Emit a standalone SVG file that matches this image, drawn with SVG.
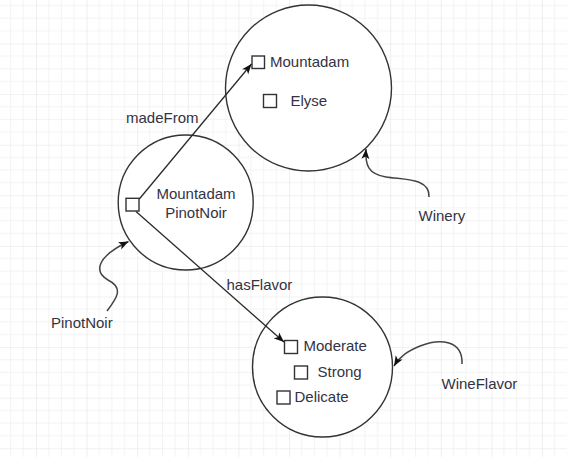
<svg xmlns="http://www.w3.org/2000/svg" width="567" height="457" viewBox="0 0 567 457">
<style>
.bg{fill:#ffffff}
.circ{fill:#ffffff;stroke:#333333;stroke-width:1.4}
.sq{fill:#ffffff;stroke:#333333;stroke-width:1.4}
.t{font-family:"Liberation Sans",Arial,Helvetica,sans-serif;font-size:15px;fill:#333344}
.tc{text-anchor:middle}
.edge{fill:none;stroke:#2a2a2a;stroke-width:1.3}
.curve{fill:none;stroke:#444444;stroke-width:1.5}
</style>
<defs>
<pattern id="grid" patternUnits="userSpaceOnUse" x="36" y="43.5" width="50.6" height="50.6">
<path d="M12.65 0V50.6M25.3 0V50.6M37.95 0V50.6M0 12.65H50.6M0 25.3H50.6M0 37.95H50.6" stroke="#f3f3f3" stroke-width="1" fill="none"/>
<path d="M0 0V50.6M0 0H50.6" stroke="#e4e4e4" stroke-width="1.2" fill="none"/>
</pattern>
<marker id="arr" markerUnits="userSpaceOnUse" markerWidth="11" markerHeight="9" refX="10" refY="4.5" orient="auto" viewBox="0 0 11 9">
<path d="M0,0.5 L10,4.5 L0,8.5 L2.5,4.5 Z" fill="#111111"/>
</marker>
</defs>
<rect class="bg" x="0" y="0" width="567" height="457"/>
<rect x="0" y="0" width="567" height="457" fill="url(#grid)"/>

<g id="winery">
<circle class="circ" cx="308.5" cy="88" r="83"/>
<rect class="sq" x="252" y="56" width="12.5" height="12.5"/>
<text class="t" x="270" y="67">Mountadam</text>
<rect class="sq" x="263.5" y="94.5" width="13" height="13"/>
<text class="t" x="290.5" y="106">Elyse</text>
</g>

<g id="pinotnoir">
<circle class="circ" cx="185.7" cy="202.5" r="67.5"/>
<rect class="sq" x="126" y="198.3" width="13" height="12.7"/>
<text class="t tc" x="196" y="199">Mountadam</text>
<text class="t tc" x="196" y="217.5">PinotNoir</text>
</g>

<g id="wineflavor">
<circle class="circ" cx="322.5" cy="367" r="70"/>
<rect class="sq" x="284.5" y="340.5" width="13" height="13"/>
<text class="t" x="303.5" y="351">Moderate</text>
<rect class="sq" x="294.5" y="366" width="13" height="13"/>
<text class="t" x="317.5" y="376.5">Strong</text>
<rect class="sq" x="277" y="391" width="13" height="13"/>
<text class="t" x="294.5" y="401.5">Delicate</text>
</g>

<g id="label-winery">
<text class="t" x="418.5" y="221">Winery</text>
</g>
<g id="label-pinotnoir">
<text class="t" x="51" y="327.5">PinotNoir</text>
</g>
<g id="label-wineflavor">
<text class="t" x="441.5" y="388.5">WineFlavor</text>
</g>

<g id="connectors">
<path class="edge" d="M139.3,199 L251.5,64" marker-end="url(#arr)"/>
<text class="t" x="126" y="123">madeFrom</text>
<path class="edge" d="M136,211.5 L284,342" marker-end="url(#arr)"/>
<text class="t" x="226.5" y="289.5">hasFlavor</text>
<path class="curve" d="M429,197 C430,178 405,180 386,177 C368,174 365,165 366,149" marker-end="url(#arr)"/>
<path class="curve" d="M107,311 C117,298 124,288 108,280 C94,272 96,257 128.5,241.5" marker-end="url(#arr)"/>
<path class="curve" d="M462,364 C463,340 440,338 420,346 C408,351 400,356 394,366" marker-end="url(#arr)"/>
</g>
</svg>
